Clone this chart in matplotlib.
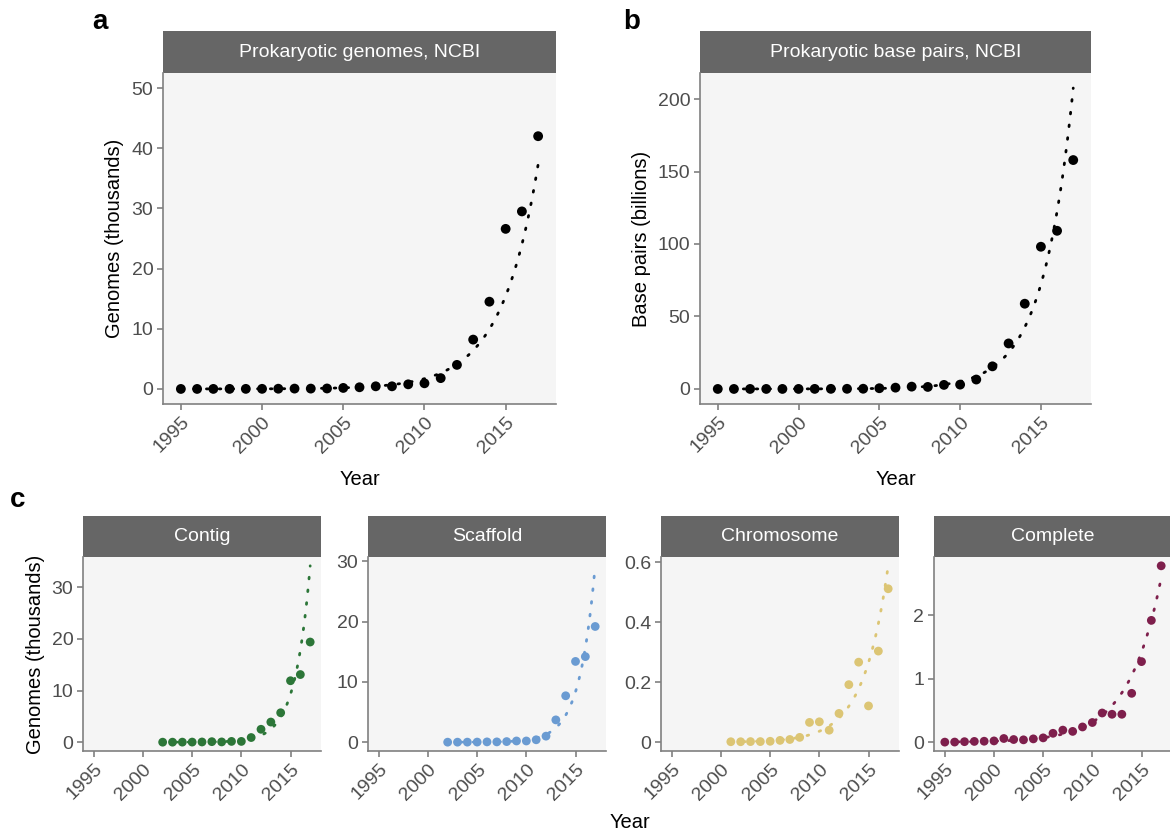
import numpy as np
import matplotlib.pyplot as plt
from matplotlib.patches import Rectangle

plt.rcParams['font.family'] = ['Liberation Sans', 'DejaVu Sans']

# yearly counts, NCBI prokaryotes
years = np.arange(1995, 2018)
genomes_k = [0.002, 0.004, 0.008, 0.012, 0.015, 0.02, 0.04, 0.06, 0.06, 0.08,
             0.17, 0.28, 0.44, 0.44, 0.77, 0.94, 1.8, 4.0, 8.2, 14.5,
             26.6, 29.5, 42.0]
basepairs_bn = [0.001, 0.004, 0.008, 0.012, 0.015, 0.02, 0.05, 0.08, 0.1, 0.15,
                0.5, 0.9, 1.6, 1.4, 2.8, 3.0, 6.5, 15.6, 31.4, 58.8,
                98.1, 109.1, 157.9]

# genomes by assembly level (thousands)
contig_years = np.arange(2002, 2018)
contig = [0.001, 0.003, 0.01, 0.02, 0.04, 0.1, 0.05, 0.15, 0.15, 0.9,
          2.5, 3.9, 5.7, 11.9, 13.1, 19.4]
scaffold_years = np.arange(2002, 2018)
scaffold = [0.002, 0.004, 0.01, 0.02, 0.05, 0.05, 0.1, 0.2, 0.2, 0.4,
            1.0, 3.7, 7.7, 13.4, 14.2, 19.2]
chrom_years = np.arange(2001, 2018)
chromosome = [0.0015, 0.0015, 0.002, 0.002, 0.003, 0.006, 0.009, 0.016, 0.066,
              0.068, 0.040, 0.096, 0.192, 0.267, 0.121, 0.304, 0.512]
complete_years = np.arange(1995, 2018)
complete = [0.001, 0.002, 0.008, 0.012, 0.015, 0.02, 0.058, 0.042, 0.037, 0.052,
            0.068, 0.14, 0.19, 0.17, 0.24, 0.31, 0.46, 0.44, 0.44, 0.77,
            1.27, 1.92, 2.78]

level_names = ['Contig', 'Scaffold', 'Chromosome', 'Complete']
level_colors = ['#2c7638', '#6a9bd2', '#dcc574', '#7e1f4c']

PANEL_BG = '#f5f5f5'
STRIP_BG = '#666666'
AXIS_COL = '#808080'
TICK_COL = '#4d4d4d'

W, H = 1170, 832
fig = plt.figure(figsize=(W / 100, H / 100), dpi=100)


def px_axes(left, top, right, bottom):
    return fig.add_axes([left / W, 1 - bottom / H, (right - left) / W, (bottom - top) / H])


def style(ax, yticks, ylabels=None):
    ax.set_facecolor(PANEL_BG)
    for s in ['top', 'right']:
        ax.spines[s].set_visible(False)
    for s in ['left', 'bottom']:
        ax.spines[s].set_color(AXIS_COL)
        ax.spines[s].set_linewidth(1.2)
    ax.tick_params(colors=AXIS_COL, width=1.2, length=4, labelcolor=TICK_COL,
                   labelsize=14, pad=3)
    ax.set_xlim(1993.9, 2018.1)
    xt = [1995, 2000, 2005, 2010, 2015]
    ax.set_xticks(xt)
    ax.set_xticklabels([str(t) for t in xt], rotation=45, ha='right', va='top',
                       rotation_mode='anchor')
    ax.set_yticks(yticks)
    if ylabels is not None:
        ax.set_yticklabels(ylabels)


def strip(ax, label, h_px):
    ax_h = ax.get_position().height * H
    frac = h_px / ax_h
    ax.add_patch(Rectangle((0, 1), 1, frac, transform=ax.transAxes,
                           facecolor=STRIP_BG, edgecolor='none', clip_on=False))
    ax.text(0.5, 1 + frac / 2, label, transform=ax.transAxes, ha='center',
            va='center', color='white', fontsize=14)


def draw_series(ax, yrs, vals, color, size):
    vals = np.asarray(vals)
    # exponential trend: linear fit on log scale
    coef = np.polyfit(yrs, np.log(vals), 1)
    xs = np.linspace(yrs[0], yrs[-1], 300)
    ys = np.exp(np.polyval(coef, xs))
    ax.plot(xs, ys, color=color, lw=2.0, linestyle=(0, (0.6, 4.0)),
            dash_capstyle='round', zorder=2)
    ax.scatter(yrs, vals, s=size, color=color, edgecolors='none', zorder=3)
    return max(vals.max(), ys.max())


def expand(ax, hi, lo=0.0):
    span = hi - lo
    ax.set_ylim(lo - 0.05 * span, hi + 0.05 * span)


# a: genomes
ax_a = px_axes(163, 73, 556, 404)
draw_series(ax_a, years, genomes_k, 'black', 50)
style(ax_a, [0, 10, 20, 30, 40, 50])
ax_a.set_ylim(-2.5, 52.5)
strip(ax_a, 'Prokaryotic genomes, NCBI', 42)
ax_a.set_ylabel('Genomes (thousands)', fontsize=14.5, labelpad=5)
ax_a.set_xlabel('Year', fontsize=14.5, labelpad=10)

# b: base pairs
ax_b = px_axes(700, 73, 1091, 404)
hi_b = draw_series(ax_b, years, basepairs_bn, 'black', 50)
style(ax_b, [0, 50, 100, 150, 200])
expand(ax_b, hi_b)
strip(ax_b, 'Prokaryotic base pairs, NCBI', 42)
ax_b.set_ylabel('Base pairs (billions)', fontsize=14.5, labelpad=5)
ax_b.set_xlabel('Year', fontsize=14.5, labelpad=10)

# c: assembly levels
level_data = [(contig_years, contig), (scaffold_years, scaffold),
              (chrom_years, chromosome), (complete_years, complete)]
level_ticks = [([0, 10, 20, 30], None), ([0, 10, 20, 30], None),
               ([0, 0.2, 0.4, 0.6], ['0', '0.2', '0.4', '0.6']),
               ([0, 1, 2], None)]
lefts = [83, 368, 661, 934]
for i, name in enumerate(level_names):
    ax = px_axes(lefts[i], 557, lefts[i] + 238, 751)
    yrs, vals = level_data[i]
    hi = draw_series(ax, yrs, vals, level_colors[i], 40)
    style(ax, *level_ticks[i])
    expand(ax, hi)
    strip(ax, name, 41)
    if i == 0:
        ax.set_ylabel('Genomes (thousands)', fontsize=14.5, labelpad=5)

fig.text(630 / W, 1 - 822 / H, 'Year', ha='center', va='center', fontsize=14.5)

for letter, (x, y) in zip('abc', [(100, 22), (632, 22), (18, 500)]):
    fig.text(x / W, 1 - y / H, letter, ha='center', va='center',
             fontsize=20, fontweight='bold')

fig.savefig('out.png', dpi=100)
